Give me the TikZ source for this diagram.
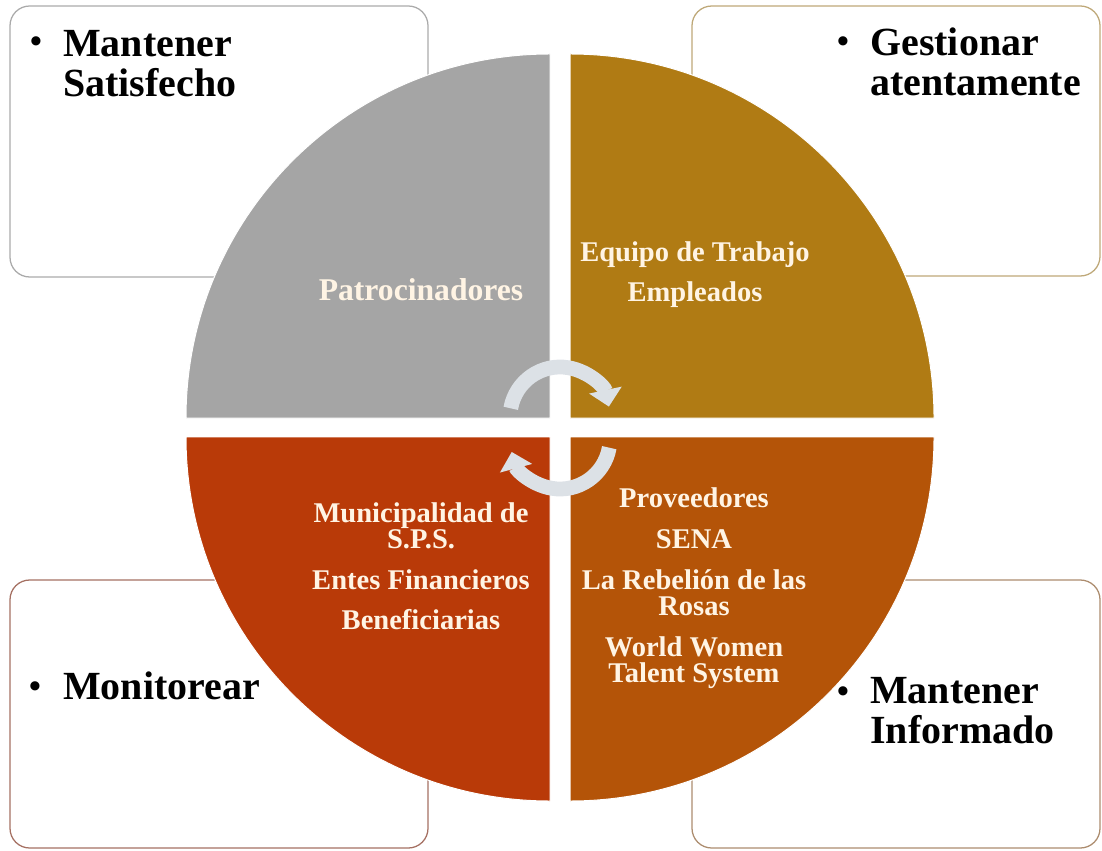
\documentclass[tikz,border=0pt]{standalone}
\usepackage{fontspec}
\setmainfont{Liberation Serif}
\usetikzlibrary{arrows.meta}

\definecolor{grisq}{RGB}{165,165,165}
\definecolor{oroq}{RGB}{176,123,20}
\definecolor{rojoq}{RGB}{185,58,8}
\definecolor{naranjaq}{RGB}{180,84,8}
\definecolor{flecha}{RGB}{220,225,230}
\definecolor{crema}{RGB}{255,244,228}
\definecolor{bordegris}{RGB}{170,170,170}
\definecolor{bordeoro}{RGB}{190,168,120}
\definecolor{borderojo}{RGB}{165,112,98}
\definecolor{bordenaranja}{RGB}{172,140,110}

\begin{document}
\begin{tikzpicture}[x=0.025cm, y=0.025cm,
  caja/.style={line width=0.9pt, rounded corners=14pt},
  quesito/.style={draw=white, line width=0.7pt},
  accion/.style={font=\fontsize{28.4}{28.4}\selectfont\bfseries, anchor=north west, align=left, inner sep=0pt},
  vineta/.style={font=\fontsize{24}{24}\selectfont\bfseries, inner sep=0pt},
  actor/.style={font=\fontsize{20.3}{18.5}\selectfont\bfseries, text=crema, align=center, inner sep=0pt},
  ciclo/.style={line width=10.5pt, flecha, -{Triangle[width=23pt,length=12pt]}}]
  \useasboundingbox (0,0) rectangle (1102,850);

  % Boxes behind the circle
  \draw[caja, bordegris] (10,573) rectangle (428,844);
  \draw[caja, bordeoro] (692,574) rectangle (1100,844);
  \draw[caja, borderojo] (10,2) rectangle (428,270);
  \draw[caja, bordenaranja] (692,2) rectangle (1100,270);

  % Four quarters of the circle
  \fill[quesito, fill=grisq] (550,432) -- ++(0,364) arc[start angle=90, end angle=180, radius=364] -- cycle;
  \fill[quesito, fill=oroq] (570,432) -- ++(364,0) arc[start angle=0, end angle=90, radius=364] -- cycle;
  \fill[quesito, fill=rojoq] (550,413) -- ++(-364,0) arc[start angle=180, end angle=270, radius=364] -- cycle;
  \fill[quesito, fill=naranjaq] (570,413) -- ++(0,-364) arc[start angle=270, end angle=360, radius=364] -- cycle;

  % Cycle arrows
  \draw[ciclo] (560,433) ++(170:50) arc[start angle=170, end angle=12, radius=50];
  \draw[ciclo] (560,411) ++(-10:50) arc[start angle=-10, end angle=-165, radius=50];

  % Stakeholders
  \node[actor, font=\fontsize{22.5}{22}\selectfont\bfseries] (patrocinadores) at (421,560) {Patrocinadores};
  \node[actor, anchor=north] (equipo) at (695,609) {Equipo de Trabajo\\[10pt]Empleados};
  \node[actor, anchor=north] (municipalidad) at (421,348)
    {Municipalidad de\\S.P.S.\\[11pt]Entes Financieros\\[10pt]Beneficiarias};
  \node[actor, anchor=north] (proveedores) at (694,363)
    {Proveedores\\[10.7pt]SENA\\[10.7pt]La Rebelión de las\\Rosas\\[10.7pt]World Women\\Talent System};

  % Actions
  \node[vineta] (b1) at (36,805) {\textbullet};
  \node[accion] (satisfecho) at (63,820) {Mantener\\Satisfecho};
  \node[vineta] (b2) at (843,805) {\textbullet};
  \node[accion] (gestionar) at (870,822) {Gestionar\\atentamente};
  \node[vineta] (b3) at (35,160) {\textbullet};
  \node[accion] (monitorear) at (63,178) {Monitorear};
  \node[vineta] (b4) at (843,155) {\textbullet};
  \node[accion] (informado) at (870,173) {Mantener\\Informado};
\end{tikzpicture}
\end{document}
